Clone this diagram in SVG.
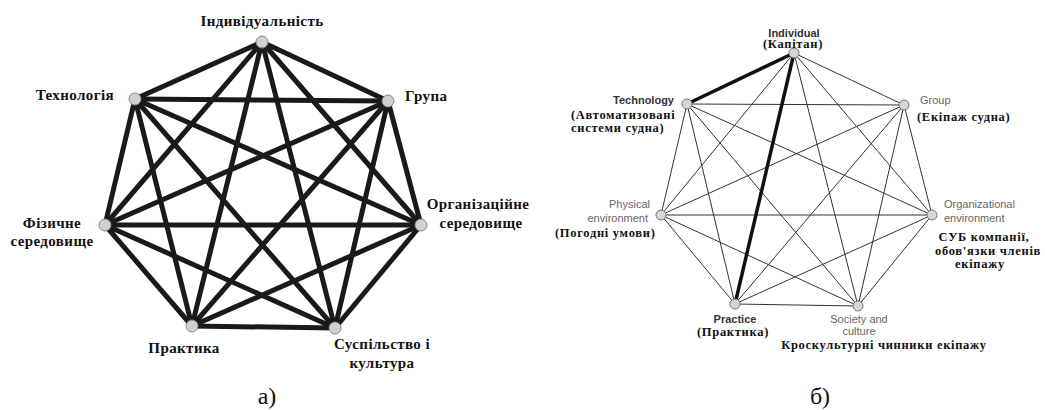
<svg xmlns="http://www.w3.org/2000/svg" width="1045" height="410" viewBox="0 0 1045 410">
<style>
.bg{fill:#fff}
.e1{stroke:#1a1a1a;stroke-width:5;stroke-linecap:round}
.e2{stroke:#333;stroke-width:1}
.e2b{stroke:#111;stroke-width:3.5;stroke-linecap:round}
.n1{fill:#d0d0d0;stroke:#888;stroke-width:1}
.n2{fill:#d6d6d6;stroke:#777;stroke-width:1}
.ua{font-family:"Liberation Serif","Times New Roman",serif;font-weight:bold;font-size:15px;letter-spacing:0.4px;fill:#111}
.ub{font-family:"Liberation Serif","Times New Roman",serif;font-weight:bold;font-size:12.5px;letter-spacing:0.7px;fill:#111}
.en{font-family:"Liberation Sans",Arial,sans-serif;font-size:11px;fill:#666}
.enb{font-family:"Liberation Sans",Arial,sans-serif;font-size:11px;font-weight:bold;fill:#333}
.cap{font-family:"Liberation Serif","Times New Roman",serif;font-size:24px;fill:#111}
</style>
<rect class="bg" width="1045" height="410"/>
<g id="connectors-a">
<line class="e1" x1="262" y1="42" x2="135" y2="99"/>
<line class="e1" x1="262" y1="42" x2="388" y2="101"/>
<line class="e1" x1="262" y1="42" x2="105" y2="225"/>
<line class="e1" x1="262" y1="42" x2="421" y2="225"/>
<line class="e1" x1="262" y1="42" x2="192" y2="326"/>
<line class="e1" x1="262" y1="42" x2="335" y2="328"/>
<line class="e1" x1="135" y1="99" x2="388" y2="101"/>
<line class="e1" x1="135" y1="99" x2="105" y2="225"/>
<line class="e1" x1="135" y1="99" x2="421" y2="225"/>
<line class="e1" x1="135" y1="99" x2="192" y2="326"/>
<line class="e1" x1="135" y1="99" x2="335" y2="328"/>
<line class="e1" x1="388" y1="101" x2="105" y2="225"/>
<line class="e1" x1="388" y1="101" x2="421" y2="225"/>
<line class="e1" x1="388" y1="101" x2="192" y2="326"/>
<line class="e1" x1="388" y1="101" x2="335" y2="328"/>
<line class="e1" x1="105" y1="225" x2="421" y2="225"/>
<line class="e1" x1="105" y1="225" x2="192" y2="326"/>
<line class="e1" x1="105" y1="225" x2="335" y2="328"/>
<line class="e1" x1="421" y1="225" x2="192" y2="326"/>
<line class="e1" x1="421" y1="225" x2="335" y2="328"/>
<line class="e1" x1="192" y1="326" x2="335" y2="328"/>
</g>
<g id="connectors-b">
<line class="e2" x1="794" y1="53" x2="904" y2="105"/>
<line class="e2" x1="794" y1="53" x2="661" y2="215"/>
<line class="e2" x1="794" y1="53" x2="932" y2="215"/>
<line class="e2" x1="794" y1="53" x2="858" y2="306"/>
<line class="e2" x1="687" y1="104" x2="904" y2="105"/>
<line class="e2" x1="687" y1="104" x2="661" y2="215"/>
<line class="e2" x1="687" y1="104" x2="932" y2="215"/>
<line class="e2" x1="687" y1="104" x2="735" y2="304"/>
<line class="e2" x1="687" y1="104" x2="858" y2="306"/>
<line class="e2" x1="904" y1="105" x2="661" y2="215"/>
<line class="e2" x1="904" y1="105" x2="932" y2="215"/>
<line class="e2" x1="904" y1="105" x2="735" y2="304"/>
<line class="e2" x1="904" y1="105" x2="858" y2="306"/>
<line class="e2" x1="661" y1="215" x2="932" y2="215"/>
<line class="e2" x1="661" y1="215" x2="735" y2="304"/>
<line class="e2" x1="661" y1="215" x2="858" y2="306"/>
<line class="e2" x1="932" y1="215" x2="735" y2="304"/>
<line class="e2" x1="932" y1="215" x2="858" y2="306"/>
<line class="e2" x1="735" y1="304" x2="858" y2="306"/>
<line class="e2b" x1="794" y1="53" x2="687" y2="104"/>
<line class="e2b" x1="794" y1="53" x2="735" y2="304"/>
</g>
<g id="a-individual"><circle class="n1" cx="262" cy="42" r="6"/><text class="ua" x="262" y="26" text-anchor="middle">Індивідуальність</text></g>
<g id="a-technology"><circle class="n1" cx="135" cy="99" r="6"/><text class="ua" x="114" y="100" text-anchor="end">Технологія</text></g>
<g id="a-group"><circle class="n1" cx="388" cy="101" r="6"/><text class="ua" x="405" y="101">Група</text></g>
<g id="a-physical"><circle class="n1" cx="105" cy="225" r="6"/><text class="ua" x="52" y="228" text-anchor="middle">Фізичне</text><text class="ua" x="52" y="246" text-anchor="middle">середовище</text></g>
<g id="a-organizational"><circle class="n1" cx="421" cy="225" r="6"/><text class="ua" x="478" y="209" text-anchor="middle">Організаційне</text><text class="ua" x="481" y="228" text-anchor="middle">середовище</text></g>
<g id="a-practice"><circle class="n1" cx="192" cy="326" r="6"/><text class="ua" x="184" y="353" text-anchor="middle">Практика</text></g>
<g id="a-society"><circle class="n1" cx="335" cy="328" r="6"/><text class="ua" x="382" y="349" text-anchor="middle">Суспільство і</text><text class="ua" x="382" y="368" text-anchor="middle">культура</text></g>
<text class="cap" x="267" y="404" text-anchor="middle">а)</text>
<g id="b-individual"><circle class="n2" cx="794" cy="53" r="5"/><text class="enb" x="794" y="37" text-anchor="middle">Individual</text><text class="ub" x="793" y="48" text-anchor="middle">(Капітан)</text></g>
<g id="b-technology"><circle class="n2" cx="687" cy="104" r="5"/><text class="enb" x="674" y="104" text-anchor="end">Technology</text><text class="ub" x="571" y="119">(Автоматизовані</text><text class="ub" x="571" y="132">системи судна)</text></g>
<g id="b-group"><circle class="n2" cx="904" cy="105" r="5"/><text class="en" x="920" y="104">Group</text><text class="ub" x="917" y="121">(Екіпаж судна)</text></g>
<g id="b-physical"><circle class="n2" cx="661" cy="215" r="5"/><text class="en" x="650" y="208" text-anchor="end">Physical</text><text class="en" x="648" y="222" text-anchor="end">environment</text><text class="ub" x="555" y="237">(Погодні умови)</text></g>
<g id="b-organizational"><circle class="n2" cx="932" cy="215" r="5"/><text class="en" x="944" y="208">Organizational</text><text class="en" x="944" y="222">environment</text><text class="ub" x="984" y="241" text-anchor="middle">СУБ компанії,</text><text class="ub" x="988" y="255" text-anchor="middle">обов'язки членів</text><text class="ub" x="980" y="268" text-anchor="middle">екіпажу</text></g>
<g id="b-practice"><circle class="n2" cx="735" cy="304" r="5"/><text class="enb" x="735" y="323" text-anchor="middle">Practice</text><text class="ub" x="733" y="336" text-anchor="middle">(Практика)</text></g>
<g id="b-society"><circle class="n2" cx="858" cy="306" r="5"/><text class="en" x="859" y="323" text-anchor="middle">Society and</text><text class="en" x="859" y="335" text-anchor="middle">culture</text><text class="ub" x="884" y="349" text-anchor="middle">Кроскультурні чинники екіпажу</text></g>
<text class="cap" x="820" y="404" text-anchor="middle">б)</text>
</svg>
